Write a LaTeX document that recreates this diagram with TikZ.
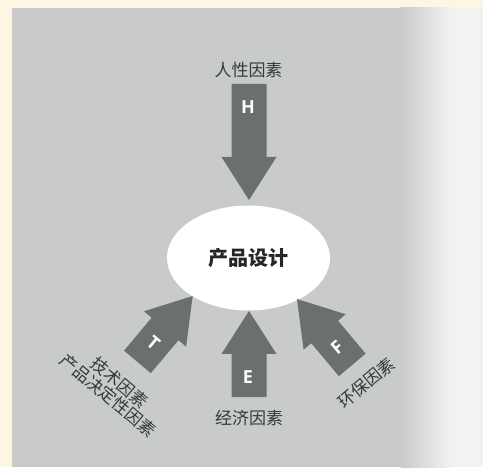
\documentclass[tikz,border=0pt]{standalone}
\usepackage{fontspec}
\newfontfamily\cjk{Noto Sans CJK SC}
\newfontfamily\lat{Open Sans}
\definecolor{cream}{HTML}{FCF6E2}
\definecolor{panelgray}{HTML}{C8CBCA}
\definecolor{panellight}{HTML}{F2F2F0}
\definecolor{arrowgray}{HTML}{6A706F}
\definecolor{labeltext}{HTML}{2F3C3B}
\tikzset{
  arrowfill/.style={fill=arrowgray},
  factorlabel/.style={font=\cjk\fontsize{17}{17}\selectfont, text=labeltext, inner sep=0pt, align=center},
  letterlabel/.style={font=\lat\bfseries\fontsize{18}{18}\selectfont, text=white, inner sep=0pt},
  centerbox/.style={ellipse, fill=white, minimum width=163pt, minimum height=105pt, inner sep=0pt,
    font=\cjk\bfseries\fontsize{20}{22}\selectfont, text=black!85}
}
\usetikzlibrary{shapes.geometric}
% block arrow: #1 tip coordinate, #2 direction angle, #3 total length
\newcommand\fatarrow[3]{%
  \begin{scope}[shift={(#1)}, rotate=#2]
    \fill[arrowfill] (0,0) -- (-43,27.5) -- (-43,17.5) -- (-#3,17.5) -- (-#3,-17.5) -- (-43,-17.5) -- (-43,-27.5) -- cycle;
  \end{scope}}
\begin{document}
\begin{tikzpicture}[x=1pt,y=1pt]
  \useasboundingbox (0,0) rectangle (483,467);
  % background
  \fill[cream] (0,0) rectangle (483,467);
  \fill[panelgray] (12,0) rectangle (401,459);
  \shade[left color=panelgray, right color=panellight] (400.5,0) rectangle (450,459);
  \fill[panellight] (449.5,0) rectangle (483,459);

  % center
  \node[centerbox] (pd) at (248.5,209) {产品设计};

  % tips of arrows
  \coordinate (tipH) at (249,267);
  \coordinate (tipE) at (249,156);
  \coordinate (tipT) at (192.7,171);
  \coordinate (tipF) at (297,168);

  \fatarrow{tipH}{-90}{116}
  \fatarrow{tipE}{90}{86}
  \fatarrow{tipT}{50}{86}
  \fatarrow{tipF}{130}{86}

  % letters
  \node[letterlabel] (lH) at (248,360) {H};
  \node[letterlabel] (lE) at (248,90) {E};
  \node[letterlabel, rotate=-40] (lT) at (153.5,124) {T};
  \node[letterlabel, rotate=40] (lF) at (337,120) {F};

  % factor labels
  \node[factorlabel] (fH) at (248.5,397) {人性因素};
  \node[factorlabel] (fE) at (249,49) {经济因素};
  \node[factorlabel, rotate=-40] (fT) at (114,78) {技术因素\\产品决定性因素};
  \node[factorlabel, rotate=40] (fF) at (366,84) {环保因素};
\end{tikzpicture}
\end{document}
